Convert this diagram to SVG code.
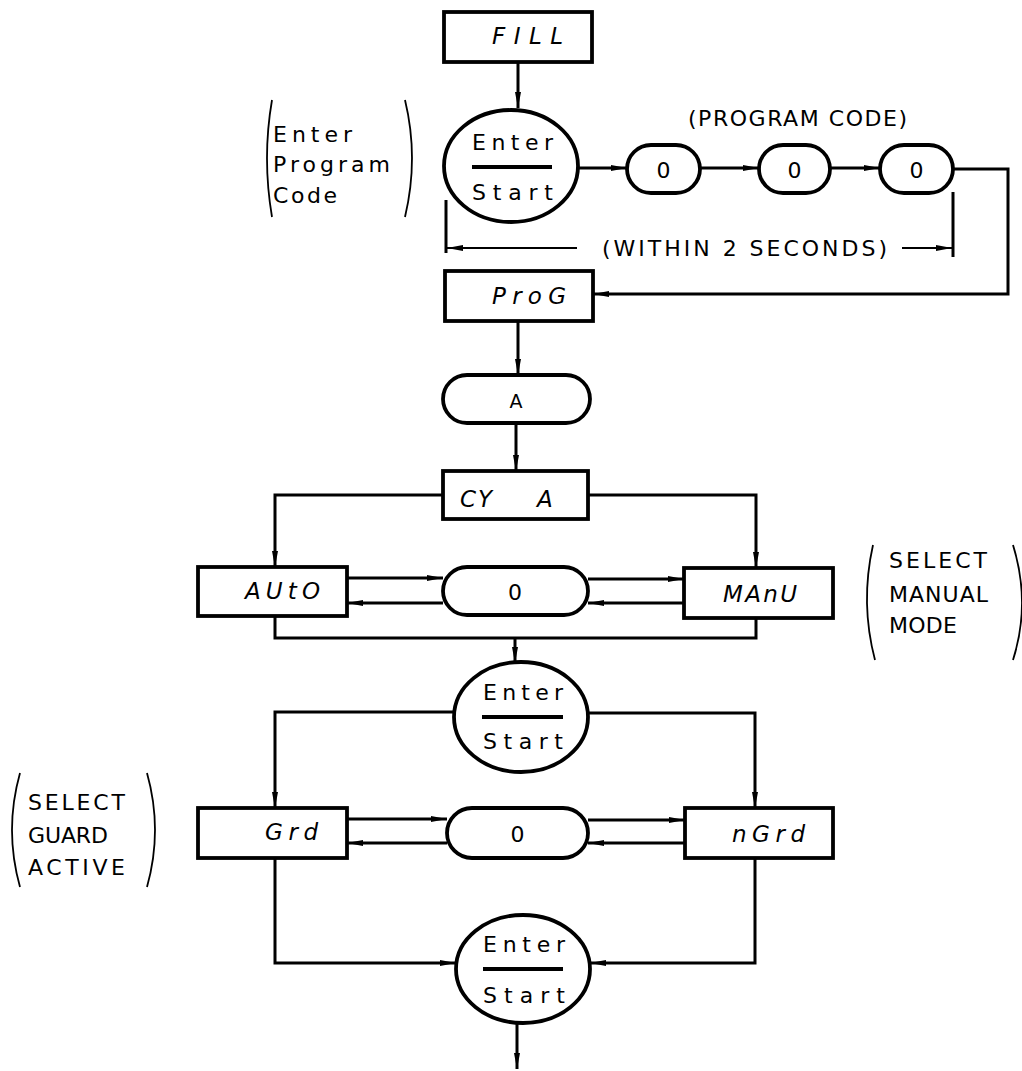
<svg xmlns="http://www.w3.org/2000/svg" width="1022" height="1071" viewBox="0 0 1022 1071">
<style>
.box{fill:#fff;stroke:#000;stroke-width:3.8}
.ln{fill:none;stroke:#000;stroke-width:3}
.thin{fill:none;stroke:#000;stroke-width:1.8}
.t{font-family:"DejaVu Sans","Liberation Sans",sans-serif;font-size:22px;fill:#000}
.d{font-family:"DejaVu Sans","Liberation Sans",sans-serif;font-size:23px;font-style:italic;fill:#000}
.a{font-family:"DejaVu Sans","Liberation Sans",sans-serif;font-size:22px;fill:#000}
</style>
<defs>
<marker id="ar" viewBox="0 0 16 8" refX="16" refY="4" markerWidth="16" markerHeight="8" markerUnits="userSpaceOnUse" orient="auto">
<path d="M0,1 L16,4 L0,7 Z" fill="#000"/>
</marker>
</defs>
<rect width="1022" height="1071" fill="#fff"/>

<g id="connectors">
<path class="ln" d="M518,62 V108" marker-end="url(#ar)"/>
<path class="ln" d="M578,168 H627" marker-end="url(#ar)"/>
<path class="ln" d="M700,168 H759" marker-end="url(#ar)"/>
<path class="ln" d="M830,168 H880" marker-end="url(#ar)"/>
<path class="ln" d="M953,169 H1008 V294 H593" marker-end="url(#ar)"/>
<path class="ln" d="M518,321 V375" marker-end="url(#ar)"/>
<path class="ln" d="M516,423 V471" marker-end="url(#ar)"/>
<path class="ln" d="M443,495 H275 V567" marker-end="url(#ar)"/>
<path class="ln" d="M588,495 H756 V568" marker-end="url(#ar)"/>
<path class="ln" d="M347,578 H443" marker-end="url(#ar)"/>
<path class="ln" d="M443,603 H347" marker-end="url(#ar)"/>
<path class="ln" d="M588,579 H684" marker-end="url(#ar)"/>
<path class="ln" d="M684,603 H588" marker-end="url(#ar)"/>
<path class="ln" d="M275,616 V638 H756 V618"/>
<path class="ln" d="M515,638 V663" marker-end="url(#ar)"/>
<path class="ln" d="M455,712 H275 V808" marker-end="url(#ar)"/>
<path class="ln" d="M588,713 H755 V808" marker-end="url(#ar)"/>
<path class="ln" d="M347,819 H447" marker-end="url(#ar)"/>
<path class="ln" d="M447,843 H347" marker-end="url(#ar)"/>
<path class="ln" d="M588,820 H685" marker-end="url(#ar)"/>
<path class="ln" d="M685,843 H588" marker-end="url(#ar)"/>
<path class="ln" d="M275,858 V963 H456" marker-end="url(#ar)"/>
<path class="ln" d="M755,858 V963 H590" marker-end="url(#ar)"/>
<path class="ln" d="M517,1023 V1069" marker-end="url(#ar)"/>
</g>

<g id="dimension">
<path class="ln" d="M446,200 V253"/>
<path class="thin" d="M577,248 H447" marker-end="url(#ar)"/>
<path class="thin" d="M902,248 H952" marker-end="url(#ar)"/>
<path class="ln" d="M953,192 V257"/>
<text class="a" x="602" y="256" textLength="285" lengthAdjust="spacing">(WITHIN 2 SECONDS)</text>
</g>

<g id="label-program-code">
<text class="a" x="688" y="126" textLength="219" lengthAdjust="spacing">(PROGRAM CODE)</text>
</g>

<g id="note-enter-program-code">
<path class="thin" d="M272,100 Q262,158 272,217"/>
<path class="thin" d="M405,100 Q419,158 405,217"/>
<text class="t" x="273" y="142" textLength="79" lengthAdjust="spacing">Enter</text>
<text class="t" x="273" y="172" textLength="117" lengthAdjust="spacing">Program</text>
<text class="t" x="273" y="203" textLength="64" lengthAdjust="spacing">Code</text>
</g>

<g id="node-fill">
<rect class="box" x="444" y="12" width="148" height="50"/>
<text class="d" x="492" y="44" textLength="71" lengthAdjust="spacing">FILL</text>
</g>

<g id="node-enter-start-1">
<ellipse class="box" cx="511" cy="166" rx="67" ry="56"/>
<line x1="472" y1="167" x2="552" y2="167" stroke="#000" stroke-width="3.8"/>
<text class="t" x="472" y="150" textLength="81" lengthAdjust="spacing">Enter</text>
<text class="t" x="472" y="200" textLength="81" lengthAdjust="spacing">Start</text>
</g>

<g id="node-code-1">
<rect class="box" x="627" y="145" width="73" height="48" rx="24"/>
<text class="t" x="663.5" y="178" text-anchor="middle">0</text>
</g>
<g id="node-code-2">
<rect class="box" x="759" y="145" width="71" height="48" rx="24"/>
<text class="t" x="794.5" y="178" text-anchor="middle">0</text>
</g>
<g id="node-code-3">
<rect class="box" x="880" y="145" width="73" height="48" rx="24"/>
<text class="t" x="916.5" y="178" text-anchor="middle">0</text>
</g>

<g id="node-prog">
<rect class="box" x="445" y="271" width="148" height="50"/>
<text class="d" x="492" y="304" textLength="74" lengthAdjust="spacing">ProG</text>
</g>

<g id="node-a">
<rect class="box" x="443" y="375" width="147" height="48" rx="24"/>
<text class="t" x="516" y="408" text-anchor="middle" style="font-size:19px">A</text>
</g>

<g id="node-cy-a">
<rect class="box" x="443" y="471" width="145" height="48"/>
<text class="d" y="507"><tspan x="460" textLength="32" lengthAdjust="spacing">CY</tspan><tspan x="537">A</tspan></text>
</g>

<g id="node-auto">
<rect class="box" x="198" y="567" width="149" height="49"/>
<text class="d" x="245" y="599" textLength="75" lengthAdjust="spacing">AUtO</text>
</g>

<g id="node-mode-0">
<rect class="box" x="443" y="567" width="145" height="48" rx="24"/>
<text class="t" x="515" y="600" text-anchor="middle">0</text>
</g>

<g id="node-manu">
<rect class="box" x="684" y="568" width="149" height="50"/>
<text class="d" x="723" y="602" textLength="74" lengthAdjust="spacing">MAnU</text>
</g>

<g id="note-select-manual-mode">
<path class="thin" d="M873,545 Q860,603 875,660"/>
<path class="thin" d="M1013,545 Q1031,603 1013,660"/>
<text class="a" x="889" y="568" textLength="98" lengthAdjust="spacing">SELECT</text>
<text class="a" x="889" y="602" textLength="99" lengthAdjust="spacing">MANUAL</text>
<text class="a" x="889" y="633" textLength="68" lengthAdjust="spacing">MODE</text>
</g>

<g id="node-enter-start-2">
<ellipse class="box" cx="521" cy="717" rx="67" ry="55"/>
<line x1="482" y1="717" x2="563" y2="717" stroke="#000" stroke-width="3.8"/>
<text class="t" x="483" y="700" textLength="80" lengthAdjust="spacing">Enter</text>
<text class="t" x="483" y="749" textLength="80" lengthAdjust="spacing">Start</text>
</g>

<g id="node-grd">
<rect class="box" x="198" y="808" width="149" height="50"/>
<text class="d" x="265" y="840" textLength="53" lengthAdjust="spacing">Grd</text>
</g>

<g id="node-guard-0">
<rect class="box" x="447" y="808" width="141" height="50" rx="25"/>
<text class="t" x="517.5" y="842" text-anchor="middle">0</text>
</g>

<g id="node-ngrd">
<rect class="box" x="685" y="808" width="148" height="50"/>
<text class="d" x="732" y="842" textLength="73" lengthAdjust="spacing">nGrd</text>
</g>

<g id="note-select-guard-active">
<path class="thin" d="M20,773 Q4,830 20,887"/>
<path class="thin" d="M147,773 Q163,830 147,887"/>
<text class="a" x="28" y="810" textLength="97" lengthAdjust="spacing">SELECT</text>
<text class="a" x="28" y="843" textLength="80" lengthAdjust="spacing">GUARD</text>
<text class="a" x="28" y="875" textLength="97" lengthAdjust="spacing">ACTIVE</text>
</g>

<g id="node-enter-start-3">
<ellipse class="box" cx="523" cy="969" rx="67" ry="54"/>
<line x1="483" y1="969" x2="563" y2="969" stroke="#000" stroke-width="3.8"/>
<text class="t" x="483" y="952" textLength="82" lengthAdjust="spacing">Enter</text>
<text class="t" x="483" y="1003" textLength="82" lengthAdjust="spacing">Start</text>
</g>
</svg>
